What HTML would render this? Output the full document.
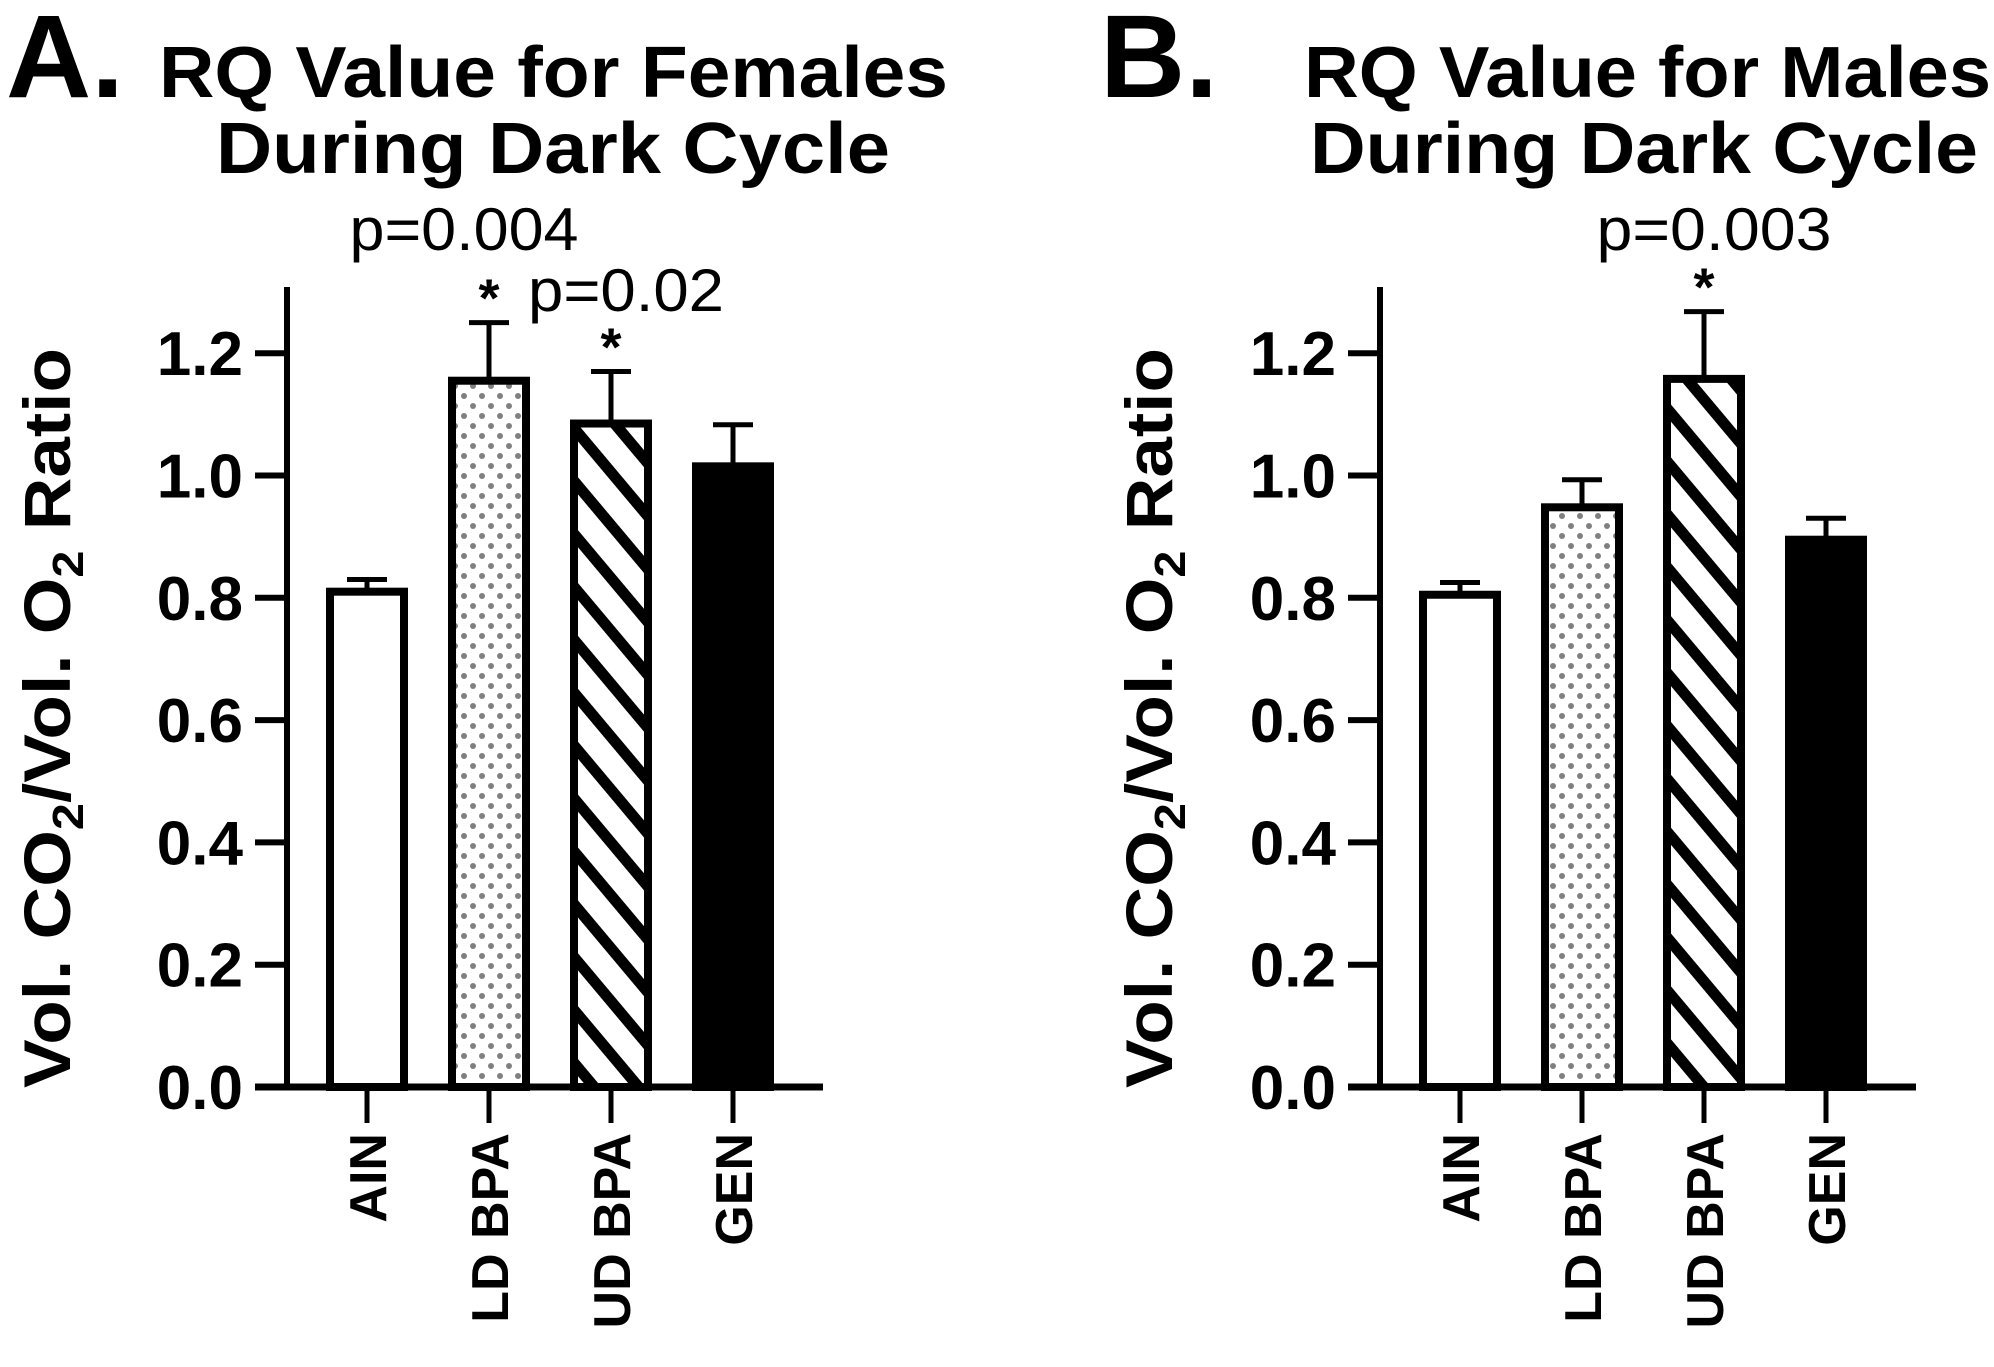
<!DOCTYPE html>
<html><head><meta charset="utf-8"><style>
html,body{margin:0;padding:0;background:#fff;}
svg{display:block;font-family:"Liberation Sans",Arial,sans-serif;}
</style></head><body>
<svg id="chart" width="1994" height="1367" viewBox="0 0 1994 1367" xmlns="http://www.w3.org/2000/svg">
<defs>
<pattern id="dots" width="18" height="20" patternUnits="userSpaceOnUse">
<rect width="18" height="20" fill="#fff"/>
<circle cx="5" cy="6" r="3" fill="#808080"/><circle cx="14" cy="16" r="3" fill="#808080"/>
</pattern>
<pattern id="stripes" width="34" height="34" patternUnits="userSpaceOnUse" patternTransform="rotate(50)">
<rect width="34" height="34" fill="#fff"/>
<rect x="0" y="0" width="34" height="11" fill="#000"/>
</pattern>
</defs>
<g id="panelA"></g>
<g id="panelB"></g>
</svg>
<script>
const categories = ["AIN","LD BPA","UD BPA","GEN"];
const femaleValues = [0.81, 1.155, 1.085, 1.015];
const femaleErrors = [0.02, 0.095, 0.085, 0.068];
const maleValues = [0.805, 0.948, 1.158, 0.895];
const maleErrors = [0.02, 0.045, 0.11, 0.035];
const yTicks = [0.0,0.2,0.4,0.6,0.8,1.0,1.2];
const yTickLabels = ["0.0","0.2","0.4","0.6","0.8","1.0","1.2"];
const femaleAnnotations = [null, {star:true, p:"p=0.004"}, {star:true, p:"p=0.02"}, null];
const maleAnnotations = [null, null, {star:true, p:"p=0.003"}, null];
const fills = ["#fff","url(#dots)","url(#stripes)","#000"];

const NS = "http://www.w3.org/2000/svg";
function mk(parent, tag, attrs, text){
  const e = document.createElementNS(NS, tag);
  for (const k in attrs) e.setAttribute(k, attrs[k]);
  if (text !== undefined) e.textContent = text;
  parent.appendChild(e);
  return e;
}
const Y0 = 1087, PXU = 611.5, AXTOP = 287;
function yScale(v){ return Y0 - v*PXU; }

function drawPanel(g, axisX, values, errors, annots, letter, letterX, t1, t1x, t2x, ytx){
  const xScale = i => axisX + 80 + i*122;
  const bw = 74;
  let e = mk(g,"text",{x:letterX,y:97,"font-size":118,"font-weight":"bold"},letter);
  
  
  e = mk(g,"text",{x:t1x,y:97,"font-size":72,"font-weight":"bold",textLength:t1[1],lengthAdjust:"spacingAndGlyphs"},t1[0]);
  
  
  e = mk(g,"text",{x:t2x,y:173,"font-size":72,"font-weight":"bold",textLength:t1[2],lengthAdjust:"spacingAndGlyphs"},"During Dark Cycle");
  
  
  e = mk(g,"text",{x:0,y:0,"font-size":66,"font-weight":"bold","text-anchor":"middle",textLength:740,lengthAdjust:"spacingAndGlyphs",transform:`translate(${ytx},718) rotate(-90)`});
  
  
  e.appendChild(document.createTextNode("Vol. CO"));
  mk(e,"tspan",{"font-size":44,dy:13},"2");
  mk(e,"tspan",{dy:-13},"/Vol. O");
  mk(e,"tspan",{"font-size":44,dy:13},"2");
  mk(e,"tspan",{dy:-13},"\u00A0Ratio");
  values.forEach((v,i)=>{
    const cx = xScale(i);
    const top = yScale(v), et = yScale(v+errors[i]);
    const er = mk(g,"line",{x1:cx,x2:cx,y1:top,y2:et,stroke:"#000","stroke-width":5});
    
    
    const cap = mk(g,"line",{x1:cx-20,x2:cx+20,y1:et,y2:et,stroke:"#000","stroke-width":5});
    
    
    const b = mk(g,"rect",{x:cx-bw/2,y:top,width:bw,height:Y0-top,fill:fills[i],stroke:"#000","stroke-width":8});
    
    
    const a = annots[i];
    if (a){
      const st = mk(g,"text",{x:cx,y:et-6,"font-size":54,"font-weight":"bold","text-anchor":"middle"},"*");
      
      
    }
    const tk = mk(g,"line",{x1:cx,x2:cx,y1:Y0,y2:Y0+36,stroke:"#000","stroke-width":5});
    
    
    const lb = mk(g,"text",{x:0,y:0,"font-size":52,"font-weight":"bold","text-anchor":"end",transform:`translate(${cx+19},${Y0+46}) rotate(-90)`},categories[i]);
    
    
  });
  let ax = mk(g,"line",{x1:axisX,x2:axisX,y1:AXTOP,y2:Y0+3,stroke:"#000","stroke-width":6});
  
  
  ax = mk(g,"line",{x1:axisX-32,x2:axisX+536,y1:Y0,y2:Y0,stroke:"#000","stroke-width":7});
  
  
  yTicks.forEach((t,i)=>{
    const y = yScale(t);
    const tl = mk(g,"line",{x1:axisX-32,x2:axisX,y1:y,y2:y,stroke:"#000","stroke-width":6});
    
    
    const tx = mk(g,"text",{x:axisX-44,y:y+22,"font-size":62,"font-weight":"bold","text-anchor":"end"},yTickLabels[i]);
    
    
  });
}
drawPanel(document.getElementById('panelA'),287,femaleValues,femaleErrors,femaleAnnotations,"A.",6,["RQ Value for Females",789,674],159,216,70);
drawPanel(document.getElementById('panelB'),1380,maleValues,maleErrors,maleAnnotations,"B.",1100,["RQ Value for Males",687,668],1304,1310,1172);

const svg = document.getElementById('chart');
let p = mk(svg,"text",{x:464,y:250,"font-size":60,"text-anchor":"middle",textLength:229,lengthAdjust:"spacingAndGlyphs"},"p=0.004");


p = mk(svg,"text",{x:528,y:311,"font-size":60,textLength:196,lengthAdjust:"spacingAndGlyphs"},"p=0.02");


p = mk(svg,"text",{x:1714,y:250,"font-size":60,"text-anchor":"middle",textLength:235,lengthAdjust:"spacingAndGlyphs"},"p=0.003");


</script>
</body></html>
